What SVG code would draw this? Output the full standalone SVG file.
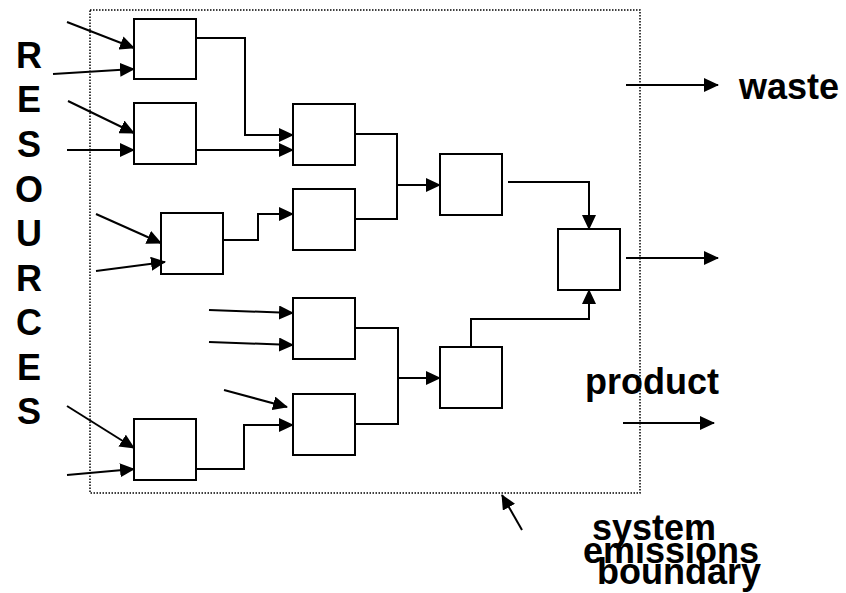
<svg xmlns="http://www.w3.org/2000/svg" width="846" height="593" viewBox="0 0 846 593">
<style>
.box{fill:#fff;stroke:#000;stroke-width:2}
.ln{fill:none;stroke:#000;stroke-width:2}
.arr{fill:none;stroke:#000;stroke-width:2;marker-end:url(#ah)}
.lbl{font-family:"Liberation Sans",Arial,sans-serif;font-weight:bold;font-size:36px;fill:#000}
</style>
<defs>
<marker id="ah" markerUnits="userSpaceOnUse" markerWidth="15" markerHeight="14" refX="14" refY="7" orient="auto">
<path d="M0,0 L15,7 L0,14 z" fill="#000"/>
</marker>
</defs>
<rect id="boundary" x="90" y="10" width="550" height="483" fill="none" stroke="#000" stroke-width="1.5" stroke-dasharray="1.5 1.5"/>
<g id="resources" class="lbl" text-anchor="middle">
<text x="29" y="68">R</text>
<text x="29" y="112">E</text>
<text x="29" y="157">S</text>
<text x="29" y="202">O</text>
<text x="29" y="246">U</text>
<text x="29" y="291">R</text>
<text x="29" y="335">C</text>
<text x="29" y="380">E</text>
<text x="29" y="424">S</text>
</g>
<g id="n1"><rect class="box" x="134" y="19" width="62" height="60"/></g>
<g id="n2"><rect class="box" x="134" y="103" width="62" height="61"/></g>
<g id="n3"><rect class="box" x="161" y="213" width="62" height="61"/></g>
<g id="n4"><rect class="box" x="134" y="419" width="62" height="61"/></g>
<g id="n5"><rect class="box" x="293" y="104" width="62" height="61"/></g>
<g id="n6"><rect class="box" x="293" y="189" width="62" height="61"/></g>
<g id="n7"><rect class="box" x="293" y="298" width="62" height="61"/></g>
<g id="n8"><rect class="box" x="293" y="394" width="62" height="61"/></g>
<g id="n9"><rect class="box" x="440" y="154" width="62" height="61"/></g>
<g id="n10"><rect class="box" x="440" y="347" width="62" height="61"/></g>
<g id="n11"><rect class="box" x="558" y="229" width="62" height="61"/></g>
<g id="connectors">
<line class="arr" x1="67" y1="22" x2="134" y2="48"/>
<line class="arr" x1="53" y1="74" x2="134" y2="69"/>
<line class="arr" x1="68" y1="101" x2="134" y2="133"/>
<line class="arr" x1="67" y1="150" x2="134" y2="150"/>
<line class="arr" x1="96" y1="214" x2="161" y2="243"/>
<line class="arr" x1="96" y1="271" x2="165" y2="262"/>
<line class="arr" x1="209" y1="310" x2="293" y2="313"/>
<line class="arr" x1="209" y1="342" x2="293" y2="345"/>
<line class="arr" x1="224" y1="390" x2="287" y2="407"/>
<line class="arr" x1="67" y1="406" x2="134" y2="448"/>
<line class="arr" x1="67" y1="475" x2="134" y2="469"/>
<polyline class="arr" points="196,38 245,38 245,135 293,135"/>
<line class="arr" x1="196" y1="150" x2="293" y2="150"/>
<polyline class="arr" points="223,240 258,240 258,214 293,214"/>
<polyline class="ln" points="355,134 397,134 397,219 355,219"/>
<line class="arr" x1="397" y1="185" x2="440" y2="185"/>
<polyline class="arr" points="196,469 244,469 244,425 293,425"/>
<polyline class="ln" points="355,328 398,328 398,424 355,424"/>
<line class="arr" x1="398" y1="378" x2="440" y2="378"/>
<polyline class="arr" points="508,182 589,182 589,229"/>
<polyline class="arr" points="471,347 471,319 589,319 589,290"/>
<line class="arr" x1="626" y1="85" x2="718" y2="85"/>
<line class="arr" x1="626" y1="258" x2="718" y2="258"/>
<line class="arr" x1="623" y1="423" x2="714" y2="423"/>
<line class="arr" x1="522" y1="530" x2="502" y2="495"/>
</g>
<g id="labels" class="lbl">
<text x="739" y="99">waste</text>
<text x="585" y="394">product</text>
<text x="592" y="540">system</text>
<text x="583" y="563">emissions</text>
<text x="597" y="584">boundary</text>
</g>
</svg>
